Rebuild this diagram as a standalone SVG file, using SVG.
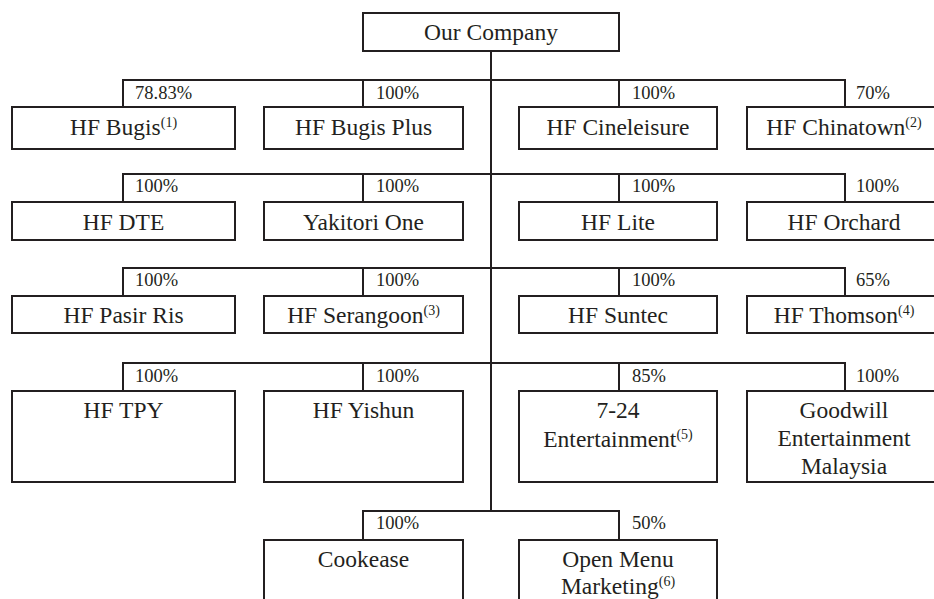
<svg xmlns="http://www.w3.org/2000/svg" width="934" height="599" viewBox="0 0 934 599">
<style>
.box{fill:#fff;stroke:#231f20;stroke-width:2}
.ln{fill:none;stroke:#231f20;stroke-width:2}
.t{font-family:"Liberation Serif","Times New Roman",serif;font-size:23.5px;fill:#231f20;text-anchor:middle}
.p{font-family:"Liberation Serif","Times New Roman",serif;font-size:18.5px;fill:#231f20}
.s{font-size:14px}
</style>
<rect width="934" height="599" fill="#fff"/>
<g id="connectors">
<path class="ln" d="M491 51V511"/>
<path class="ln" d="M123 107V80H845V107M363 80V107M619 80V107"/>
<path class="ln" d="M123 202V174H845V202M363 174V202M619 174V202"/>
<path class="ln" d="M123 296V268H845V296M363 268V296M619 268V296"/>
<path class="ln" d="M123 391V363H845V391M363 363V391M619 363V391"/>
<path class="ln" d="M363 540V511H619V540"/>
</g>
<g id="our-company"><rect class="box" x="363" y="13" width="256" height="38"/><text class="t" x="491" y="40">Our Company</text></g>

<g id="hf-bugis"><rect class="box" x="12" y="107" width="223" height="42"/><text class="t" x="123.5" y="135">HF Bugis<tspan class="s" dy="-8">(1)</tspan></text><text class="p" x="135" y="99">78.83%</text></g>
<g id="hf-bugis-plus"><rect class="box" x="264" y="107" width="199" height="42"/><text class="t" x="363.5" y="135">HF Bugis Plus</text><text class="p" x="376" y="99">100%</text></g>
<g id="hf-cineleisure"><rect class="box" x="519" y="107" width="198" height="42"/><text class="t" x="618" y="135">HF Cineleisure</text><text class="p" x="632" y="99">100%</text></g>
<g id="hf-chinatown"><rect class="box" x="747" y="107" width="200" height="42"/><text class="t" x="844" y="135">HF Chinatown<tspan class="s" dy="-8">(2)</tspan></text><text class="p" x="856" y="99">70%</text></g>

<g id="hf-dte"><rect class="box" x="12" y="202" width="223" height="38"/><text class="t" x="123.5" y="230">HF DTE</text><text class="p" x="135" y="192">100%</text></g>
<g id="yakitori-one"><rect class="box" x="264" y="202" width="199" height="38"/><text class="t" x="363.5" y="230">Yakitori One</text><text class="p" x="376" y="192">100%</text></g>
<g id="hf-lite"><rect class="box" x="519" y="202" width="198" height="38"/><text class="t" x="618" y="230">HF Lite</text><text class="p" x="632" y="192">100%</text></g>
<g id="hf-orchard"><rect class="box" x="747" y="202" width="200" height="38"/><text class="t" x="844" y="230">HF Orchard</text><text class="p" x="856" y="192">100%</text></g>

<g id="hf-pasir-ris"><rect class="box" x="12" y="296" width="223" height="37"/><text class="t" x="123.5" y="323">HF Pasir Ris</text><text class="p" x="135" y="286">100%</text></g>
<g id="hf-serangoon"><rect class="box" x="264" y="296" width="199" height="37"/><text class="t" x="363.5" y="323">HF Serangoon<tspan class="s" dy="-8">(3)</tspan></text><text class="p" x="376" y="286">100%</text></g>
<g id="hf-suntec"><rect class="box" x="519" y="296" width="198" height="37"/><text class="t" x="618" y="323">HF Suntec</text><text class="p" x="632" y="286">100%</text></g>
<g id="hf-thomson"><rect class="box" x="747" y="296" width="200" height="37"/><text class="t" x="844" y="323">HF Thomson<tspan class="s" dy="-8">(4)</tspan></text><text class="p" x="856" y="286">65%</text></g>

<g id="hf-tpy"><rect class="box" x="12" y="391" width="223" height="91"/><text class="t" x="123.5" y="418">HF TPY</text><text class="p" x="135" y="382">100%</text></g>
<g id="hf-yishun"><rect class="box" x="264" y="391" width="199" height="91"/><text class="t" x="363.5" y="418">HF Yishun</text><text class="p" x="376" y="382">100%</text></g>
<g id="entertainment-724"><rect class="box" x="519" y="391" width="198" height="91"/><text class="t" x="618" y="418">7-24</text><text class="t" x="618" y="447">Entertainment<tspan class="s" dy="-8">(5)</tspan></text><text class="p" x="632" y="382">85%</text></g>
<g id="goodwill"><rect class="box" x="747" y="391" width="200" height="91"/><text class="t" x="844" y="418">Goodwill</text><text class="t" x="844" y="446">Entertainment</text><text class="t" x="844" y="474">Malaysia</text><text class="p" x="856" y="382">100%</text></g>

<g id="cookease"><rect class="box" x="264" y="540" width="199" height="70"/><text class="t" x="363.5" y="567">Cookease</text><text class="p" x="376" y="529">100%</text></g>
<g id="open-menu"><rect class="box" x="519" y="540" width="198" height="70"/><text class="t" x="618" y="567">Open Menu</text><text class="t" x="618" y="594">Marketing<tspan class="s" dy="-8">(6)</tspan></text><text class="p" x="632" y="529">50%</text></g>
</svg>
